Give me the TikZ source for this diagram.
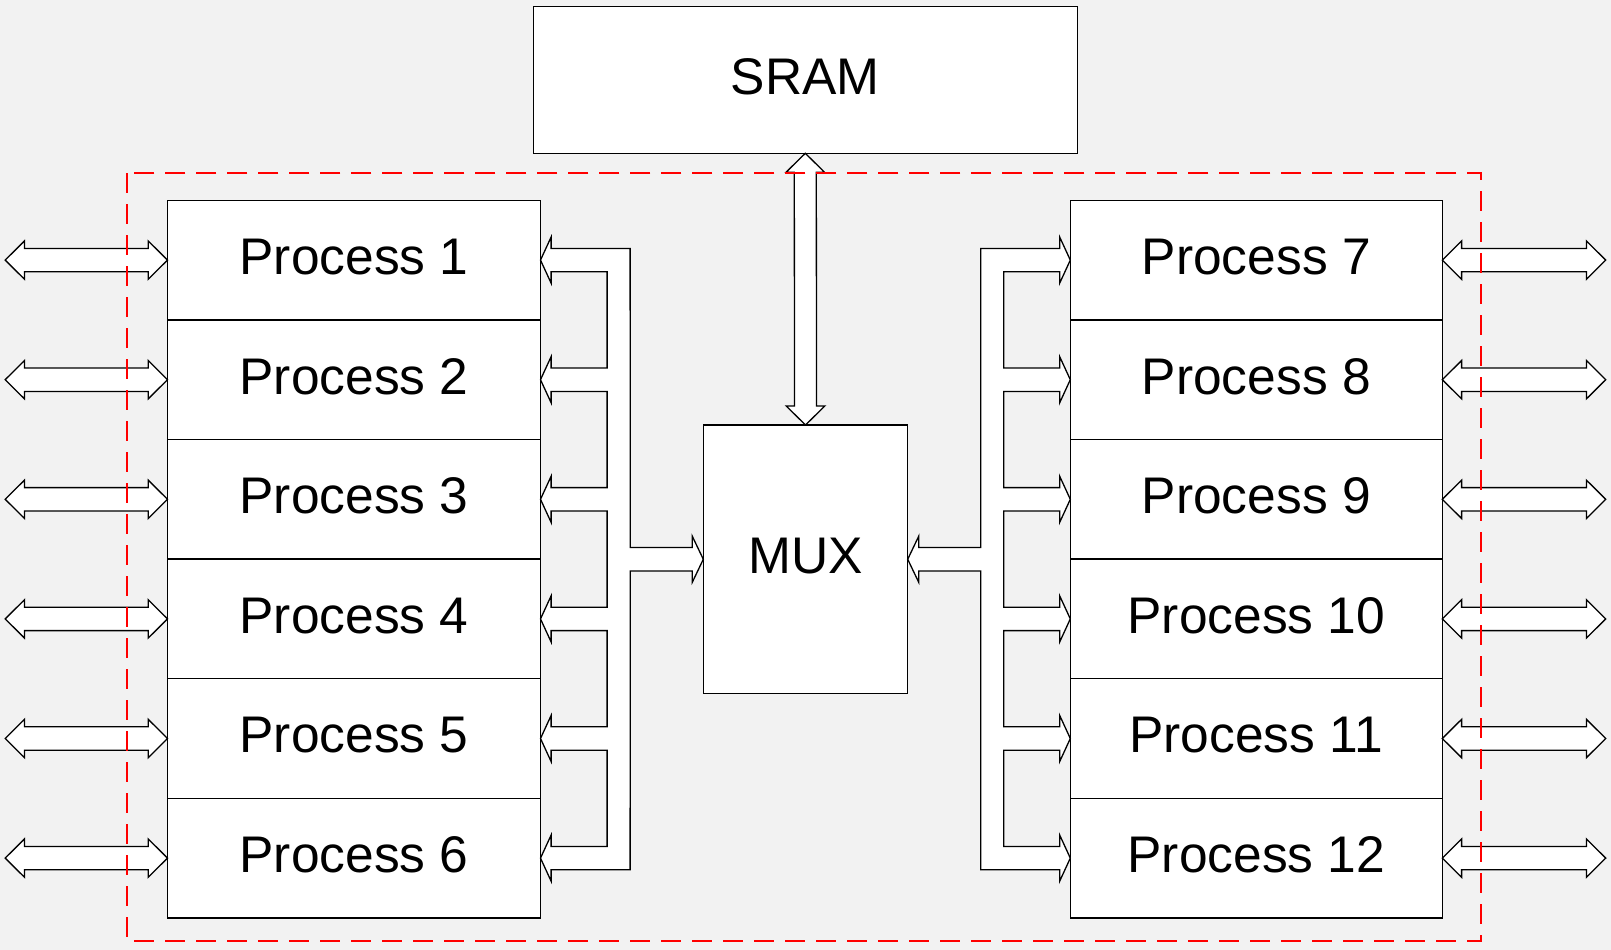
\documentclass[tikz,border=0pt]{standalone}
\usepackage{fontspec}
\setmainfont{Liberation Sans}
\usetikzlibrary{calc}
\definecolor{bgcol}{HTML}{F2F2F2}
\definecolor{redline}{HTML}{FF0000}
\tikzset{
  box/.style={draw=black, fill=white, line width=1.3pt, inner sep=0pt, outer sep=0pt,
    font=\fontsize{51.5}{60}\selectfont, text depth=7pt},
  proc/.style={box, minimum width=373pt, minimum height=119.6pt},
  bus/.style={draw=black, fill=white, line width=1.3pt, line join=miter},
  frame/.style={draw=redline, line width=2pt, dash pattern=on 20pt off 11pt}
}
\begin{document}
\begin{tikzpicture}[x=1pt, y=-1pt]
\fill[bgcol] (0,0) rectangle (1611,950);
\useasboundingbox (0,0) rectangle (1611,950);

% boxes
\node[box, minimum width=544pt, minimum height=147pt] (sram) at (805.3,79.8) {SRAM};
\node[box, minimum width=204.4pt, minimum height=268.5pt] (mux) at (805.5,559.25) {MUX};

\node[proc] (p1) at (354,260.1) {Process 1};
\node[proc] (p2) at (354,379.7) {Process 2};
\node[proc] (p3) at (354,499.3) {Process 3};
\node[proc] (p4) at (354,618.9) {Process 4};
\node[proc] (p5) at (354,738.5) {Process 5};
\node[proc] (p6) at (354,858.1) {Process 6};

\node[proc, minimum width=372pt] (p7)  at (1256.3,260.1) {Process 7};
\node[proc, minimum width=372pt] (p8)  at (1256.3,379.7) {Process 8};
\node[proc, minimum width=372pt] (p9)  at (1256.3,499.3) {Process 9};
\node[proc, minimum width=372pt] (p10) at (1256.3,618.9) {Process 10};
\node[proc, minimum width=372pt] (p11) at (1256.3,738.5) {Process 11};
\node[proc, minimum width=372pt] (p12) at (1256.3,858.1) {Process 12};

% left bus
\draw[bus] (p1.east) -- ($(p1.east)+(10.6,-23)$) -- ($(p1.east)+(10.6,-11.7)$)
  -- ($(p1.east)+(89.6,-11.7)$) -- ($(mux.west)+(-73,-11.7)$)
  -- ($(mux.west)+(-11,-11.7)$) -- ($(mux.west)+(-11,-23)$) -- (mux.west)
  -- ($(mux.west)+(-11,23)$) -- ($(mux.west)+(-11,11.7)$) -- ($(mux.west)+(-73,11.7)$)
  -- ($(p6.east)+(89.6,11.7)$)
  \foreach \n in {p6,p5,p4,p3,p2} {
    -- ($(\n.east)+(66.6,11.7)$) -- ($(\n.east)+(10.6,11.7)$) -- ($(\n.east)+(10.6,23)$)
    -- (\n.east) -- ($(\n.east)+(10.6,-23)$) -- ($(\n.east)+(10.6,-11.7)$)
    -- ($(\n.east)+(66.6,-11.7)$) }
  -- ($(p1.east)+(66.6,11.7)$) -- ($(p1.east)+(10.6,11.7)$) -- ($(p1.east)+(10.6,23)$) -- cycle;

% right bus
\draw[bus] (p7.west) -- ($(p7.west)+(-10.6,-23)$) -- ($(p7.west)+(-10.6,-11.7)$)
  -- ($(p7.west)+(-89.6,-11.7)$) -- ($(mux.east)+(73,-11.7)$)
  -- ($(mux.east)+(11,-11.7)$) -- ($(mux.east)+(11,-23)$) -- (mux.east)
  -- ($(mux.east)+(11,23)$) -- ($(mux.east)+(11,11.7)$) -- ($(mux.east)+(73,11.7)$)
  -- ($(p12.west)+(-89.6,11.7)$)
  \foreach \n in {p12,p11,p10,p9,p8} {
    -- ($(\n.west)+(-66.6,11.7)$) -- ($(\n.west)+(-10.6,11.7)$) -- ($(\n.west)+(-10.6,23)$)
    -- (\n.west) -- ($(\n.west)+(-10.6,-23)$) -- ($(\n.west)+(-10.6,-11.7)$)
    -- ($(\n.west)+(-66.6,-11.7)$) }
  -- ($(p7.west)+(-66.6,11.7)$) -- ($(p7.west)+(-10.6,11.7)$) -- ($(p7.west)+(-10.6,23)$) -- cycle;

% SRAM <-> MUX
\draw[bus] (sram.south) -- ++(19.3,19) -- ++(-8.3,0) -- ($(mux.north)+(11,-19)$) -- ++(8.3,0)
  -- (mux.north) -- ++(-19.3,-19) -- ++(8.3,0) -- ($(sram.south)+(-11,19)$) -- ++(-8.3,0) -- cycle;

% side double arrows
\foreach \n in {p1,p2,p3,p4,p5,p6} {
  \coordinate (o\n) at ($(\n.west)+(-162.3,0)$);
  \draw[bus] (o\n) -- ++(19.3,-19.2) -- ++(0,7.5) -- ($(\n.west)+(-19.3,-11.7)$) -- ++(0,-7.5)
    -- (\n.west) -- ++(-19.3,19.2) -- ++(0,-7.5) -- ($(o\n)+(19.3,11.7)$) -- ++(0,7.5) -- cycle;
}
\foreach \n in {p7,p8,p9,p10,p11,p12} {
  \coordinate (o\n) at ($(\n.east)+(163.4,0)$);
  \draw[bus] (\n.east) -- ++(19.3,-19.2) -- ++(0,7.5) -- ($(o\n)+(-19.3,-11.7)$) -- ++(0,-7.5)
    -- (o\n) -- ++(-19.3,19.2) -- ++(0,-7.5) -- ($(\n.east)+(19.3,11.7)$) -- ++(0,7.5) -- cycle;
}

% red dashed frame
\draw[frame] (127,173.3) rectangle (1481,941);
\end{tikzpicture}
\end{document}
